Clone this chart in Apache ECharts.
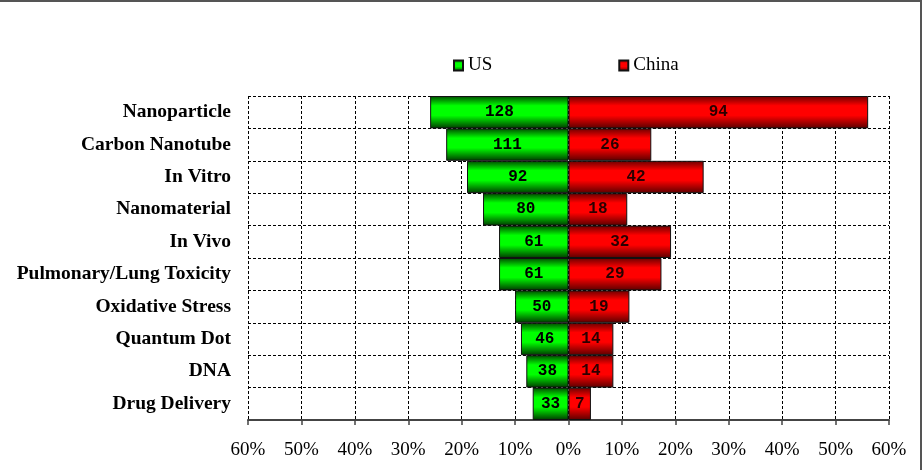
<!DOCTYPE html>
<html>
<head>
<meta charset="utf-8">
<script src="https://cdn.jsdelivr.net/npm/echarts@6/dist/echarts.min.js"></script>
<style>
  html, body { margin: 0; padding: 0; background: #fff; }
  #frame {
    width: 922px;
    height: 470px;
    box-sizing: border-box;
    border-top: 2px solid #555;
    border-right: 2px solid #555;
  }
  #chart { width: 920px; height: 468px; }
</style>
</head>
<body>
<div id="frame"><div id="chart"></div></div>
<script>
const categories = [
  "Nanoparticle",
  "Carbon Nanotube",
  "In Vitro",
  "Nanomaterial",
  "In Vivo",
  "Pulmonary/Lung Toxicity",
  "Oxidative Stress",
  "Quantum Dot",
  "DNA",
  "Drug Delivery",
];

// counts printed on the bars
const usCounts = [128, 111, 92, 80, 61, 61, 50, 46, 38, 33];
const chinaCounts = [94, 26, 42, 18, 32, 29, 19, 14, 14, 7];

// bar lengths (% share)
const usShare = [25.9, 22.9, 19.0, 16.0, 13.0, 13.0, 10.0, 8.9, 7.9, 6.7];
const chinaShare = [56.1, 15.5, 25.3, 11.0, 19.2, 17.4, 11.4, 8.4, 8.4, 4.2];

const xTicks = [-60, -50, -40, -30, -20, -10, 0, 10, 20, 30, 40, 50, 60];

const serif = "'Liberation Serif', 'DejaVu Serif', serif";

const tube = (edgeTop, mid, edgeBottom) =>
  new echarts.graphic.LinearGradient(0, 0, 0, 1, [
    { offset: 0, color: edgeTop },
    { offset: 0.3, color: mid },
    { offset: 0.6, color: mid },
    { offset: 1, color: edgeBottom },
  ]);

const green = tube("#004800", "#00ff00", "#003a00");
const red = tube("#6a0000", "#ff0000", "#5a0000");

const barLabel = (counts, color) => ({
  show: true,
  position: "inside",
  fontFamily: "'Liberation Mono', 'DejaVu Sans Mono', monospace",
  fontWeight: "bold",
  fontSize: 16,
  color,
  formatter: (p) => String(counts[p.dataIndex]),
});

const chart = echarts.init(document.getElementById("chart"), undefined, {
  renderer: "canvas",
});

chart.setOption({
  animation: false,
  legend: {
    left: 448,
    top: 49,
    itemWidth: 9,
    itemHeight: 10,
    itemGap: 126,
    icon: "rect",
    textStyle: { fontFamily: serif, fontSize: 19, color: "#000" },
    data: ["US", "China"],
  },
  grid: {
    left: 248,
    right: 31,
    top: 94,
    bottom: 50,
    containLabel: false,
  },
  xAxis: {
    type: "value",
    min: -60,
    max: 60,
    interval: 10,
    axisLabel: {
      fontFamily: serif,
      fontSize: 19,
      color: "#000",
      margin: 21,
      formatter: (v) => (xTicks.includes(v) ? Math.abs(v) + "%" : ""),
    },
    axisLine: { show: true, onZero: false, lineStyle: { color: "#444", width: 2 } },
    axisTick: { show: true, length: 5, lineStyle: { color: "#444", width: 1.5 } },
    splitLine: {
      show: true,
      lineStyle: { color: "#000", type: [3, 2], width: 1 },
    },
  },
  yAxis: {
    type: "category",
    data: categories,
    inverse: true,
    axisLine: { show: false },
    axisTick: { show: false },
    axisLabel: {
      fontFamily: serif,
      fontWeight: "bold",
      fontSize: 19.5,
      color: "#000",
      margin: 17,
    },
    splitLine: {
      show: true,
      lineStyle: { color: "#000", type: [3, 2], width: 1 },
    },
  },
  series: [
    {
      name: "US",
      type: "bar",
      stack: "total",
      barWidth: "100%",
      data: usShare.map((v) => -v),
      itemStyle: { color: green, borderColor: "#111", borderWidth: 1 },
      label: barLabel(usCounts, "#000"),
    },
    {
      name: "China",
      type: "bar",
      stack: "total",
      barWidth: "100%",
      data: chinaShare,
      itemStyle: { color: red, borderColor: "#111", borderWidth: 1 },
      label: barLabel(chinaCounts, "#2a0000"),
    },
  ],
});
</script>
</body>
</html>
